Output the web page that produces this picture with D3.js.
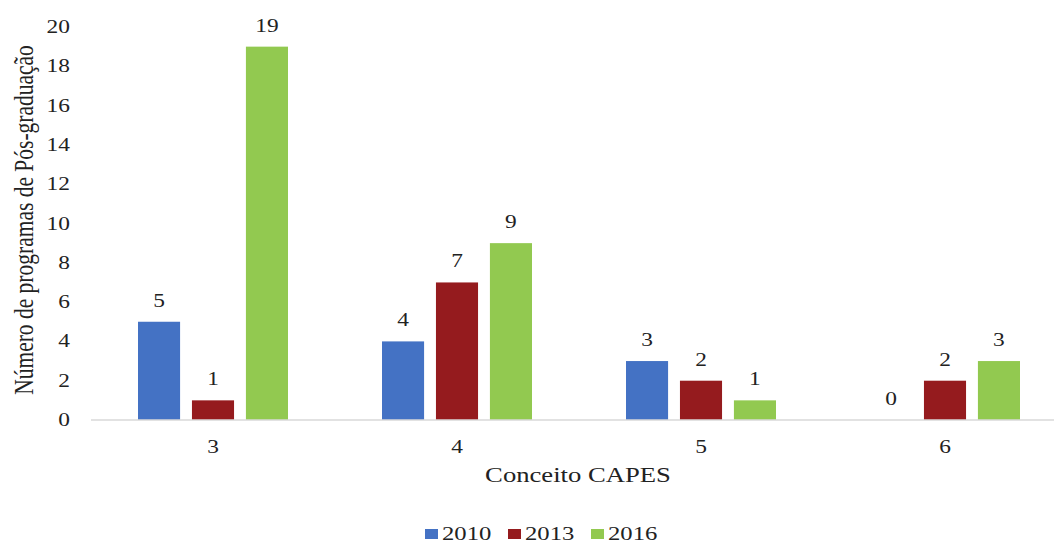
<!DOCTYPE html>
<html>
<head>
<meta charset="utf-8">
<script src="https://cdn.jsdelivr.net/npm/d3@7"></script>
<style>
  body { margin: 0; background: #fff; }
  text { font-family: "Liberation Serif", "Times New Roman", serif; fill: #222; }
</style>
</head>
<body>
<div id="chart"></div>
<script>
var categories = ['3', '4', '5', '6'];
var years = ['2010', '2013', '2016'];
var values2010 = [5, 4, 3, 0];
var values2013 = [1, 7, 2, 2];
var values2016 = [19, 9, 1, 3];
var yTicks = [0, 2, 4, 6, 8, 10, 12, 14, 16, 18, 20];
var colors = ['#4472c4', '#951b1e', '#92c950'];

var width = 1054, height = 543;
var sx = 1.3; // the picture is stretched sideways

var series = [values2010, values2013, values2016];
var data = [];
categories.forEach(function(c, i) {
	series.forEach(function(s, j) {
		data.push({ cat: c, year: years[j], value: s[i], k: j });
	});
});

var x = d3.scaleBand().domain(categories).range([91, 1067]);
var xInner = d3.scaleBand().domain(years).range([-75, 75]).paddingInner(0.22);
var y = d3.scaleLinear().domain([0, 20]).range([420, 27]);

var svg = d3.select('#chart').append('svg')
	.attr('width', width)
	.attr('height', height);

function label(g, tx, ty, str, size, anchor, rot) {
	return g.append('text')
		.attr('transform', 'translate(' + tx + ',' + ty + ') scale(' + sx + ',1)' + (rot ? ' rotate(' + rot + ')' : ''))
		.attr('text-anchor', anchor || 'middle')
		.style('font-size', size + 'px')
		.text(str);
}

// bars
svg.append('g').selectAll('rect')
	.data(data)
	.enter()
	.append('rect')
	.attr('x', function(d) { return x(d.cat) + x.bandwidth() / 2 + xInner(d.year); })
	.attr('width', xInner.bandwidth())
	.attr('y', function(d) { return y(d.value); })
	.attr('height', function(d) { return y(0) - y(d.value); })
	.attr('fill', function(d) { return colors[d.k]; });

// baseline
svg.append('line')
	.attr('x1', 91).attr('x2', 1067)
	.attr('y1', y(0)).attr('y2', y(0))
	.attr('stroke', '#d9d9d9').attr('stroke-width', 1.5);

// value labels
var vl = svg.append('g');
data.forEach(function(d) {
	label(vl, x(d.cat) + x.bandwidth() / 2 + xInner(d.year) + xInner.bandwidth() / 2, y(d.value) - 15, d.value, 18);
});

// y ticks
var yl = svg.append('g');
yTicks.forEach(function(t) {
	label(yl, 70, y(t) + 6, t, 18, 'end');
});

// x ticks
var xl = svg.append('g');
categories.forEach(function(c) {
	label(xl, x(c) + x.bandwidth() / 2, 453, c, 18);
});

// axis titles
label(svg, 578, 482, 'Conceito CAPES', 20.5);
label(svg, 33, 220, 'Número de programas de Pós-graduação', 21.5, 'middle', -90);

// legend
var leg = svg.append('g');
var legX = [425, 508, 591];
years.forEach(function(yr, i) {
	leg.append('rect')
		.attr('x', legX[i]).attr('y', 529)
		.attr('width', 13).attr('height', 10)
		.attr('fill', colors[i]);
	label(leg, legX[i] + 17, 540, yr, 19, 'start');
});
</script>
</body>
</html>
